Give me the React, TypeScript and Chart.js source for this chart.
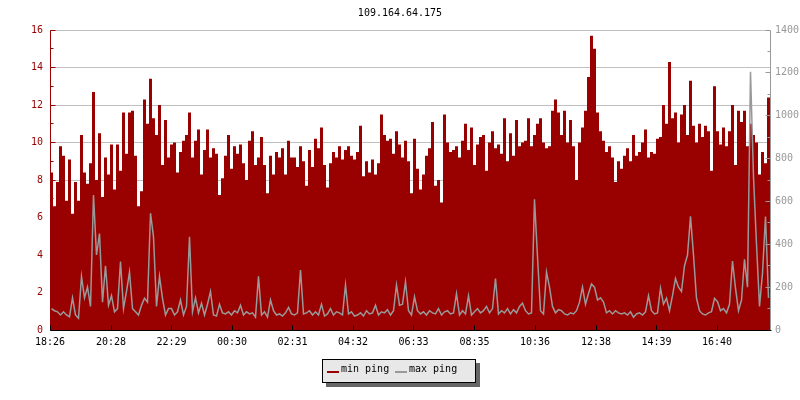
import React, { useEffect, useRef } from "react";
import { Chart, registerables } from "chart.js";

Chart.register(...registerables);

const TITLE = "109.164.64.175";
const START_TIME = "18:26";
const STEP_MINUTES = 6;
const SPAN_MINUTES = 1440;
const X_TICK_LABELS = ["18:26", "20:28", "22:29", "00:30", "02:31", "04:32", "06:33", "08:35", "10:36", "12:38", "14:39", "16:40"];
const LEFT_MAX = 16;
const LEFT_STEP = 2;
const RIGHT_MAX = 1400;
const RIGHT_STEP = 200;
const MIN_PING_LABEL = "min ping";
const MAX_PING_LABEL = "max ping";

// min ping (left axis), one value every 6 minutes
const MIN_PING = [
  8.4, 6.6, 7.9, 9.8, 9.3, 6.9, 9.1, 6.2, 7.9, 6.9, 10.4, 8.4, 7.8, 8.9, 12.7, 8.0, 10.5, 7.1, 9.2, 8.3, 9.9, 7.5, 9.9, 8.5,
  11.6, 9.4, 11.6, 11.7, 9.3, 6.6, 7.4, 12.3, 11.0, 13.4, 11.3, 10.4, 12.0, 8.8, 11.2, 9.2, 9.9, 10.0, 8.4, 9.5, 10.1, 10.4, 11.6, 9.2,
  10.1, 10.7, 8.3, 9.6, 10.7, 9.2, 9.7, 9.4, 7.2, 8.1, 9.3, 10.4, 8.6, 9.8, 9.4, 9.9, 8.9, 8.0, 10.1, 10.6, 8.8, 9.2, 10.3, 8.8,
  7.3, 9.3, 8.3, 9.5, 9.2, 9.7, 8.3, 10.1, 9.2, 9.2, 8.7, 9.8, 9.0, 7.7, 9.6, 8.7, 10.2, 9.7, 10.8, 8.8, 7.6, 8.9, 9.5, 9.2,
  9.8, 9.1, 9.6, 9.8, 9.3, 9.1, 9.5, 10.9, 8.2, 9.0, 8.4, 9.1, 8.3, 8.9, 11.5, 10.4, 10.1, 10.2, 9.4, 10.6, 9.9, 9.2, 10.1, 9.0,
  7.3, 10.2, 8.6, 7.5, 8.3, 9.3, 9.7, 11.1, 7.7, 8.0, 6.8, 11.5, 10.0, 9.5, 9.6, 9.8, 9.2, 10.1, 11.0, 9.6, 10.8, 8.8, 9.9, 10.3,
  10.4, 8.5, 10.0, 10.6, 9.7, 9.9, 9.4, 11.3, 9.0, 10.5, 9.3, 11.2, 9.8, 10.0, 10.1, 11.3, 9.8, 10.4, 11.0, 11.3, 10.0, 9.7, 9.8, 11.7,
  12.3, 11.6, 10.4, 11.7, 10.0, 11.2, 9.8, 8.0, 10.0, 10.8, 11.7, 13.5, 15.7, 15.0, 11.6, 10.6, 10.1, 9.5, 9.8, 9.2, 7.9, 9.0, 8.6, 9.3,
  9.7, 9.0, 10.4, 9.3, 9.5, 10.0, 10.7, 9.2, 9.5, 9.4, 10.2, 10.3, 12.0, 11.0, 14.3, 11.3, 11.6, 10.0, 11.5, 12.0, 10.4, 13.3, 10.9, 10.0,
  11.0, 10.3, 10.9, 10.6, 8.5, 13.0, 10.6, 9.9, 10.8, 9.8, 10.6, 12.0, 8.8, 11.7, 11.1, 11.7, 9.8, 11.0, 10.4, 10.0, 8.3, 9.5, 8.9, 12.4,
];

// max ping (right axis), one value every 6 minutes
const MAX_PING = [
  100, 90, 85, 70, 85, 70, 62, 150, 70, 55, 250, 150, 200, 110, 630, 350, 450, 130, 300, 115, 160, 85, 100, 320,
  100, 180, 270, 100, 85, 70, 115, 148, 130, 545, 435, 110, 250, 148, 70, 100, 100, 70, 85, 140, 70, 110, 435, 85,
  150, 80, 125, 70, 120, 180, 70, 65, 120, 80, 75, 85, 70, 90, 80, 115, 70, 85, 75, 80, 60, 250, 70, 85,
  60, 140, 90, 70, 75, 65, 80, 105, 75, 70, 80, 280, 75, 80, 90, 70, 85, 70, 120, 65, 75, 100, 70, 85,
  80, 70, 210, 75, 85, 65, 70, 80, 65, 90, 75, 80, 115, 70, 85, 80, 95, 70, 90, 210, 115, 120, 225, 90,
  70, 155, 90, 75, 85, 70, 90, 80, 75, 100, 70, 85, 90, 75, 80, 170, 70, 90, 75, 160, 70, 85, 100, 80,
  90, 110, 80, 100, 240, 75, 90, 80, 100, 75, 95, 80, 110, 125, 90, 75, 80, 610, 340, 90, 75, 270, 200, 110,
  80, 95, 90, 75, 70, 80, 75, 90, 130, 200, 120, 170, 215, 200, 140, 150, 130, 80, 90, 75, 90, 80, 75, 80,
  70, 85, 60, 75, 80, 70, 85, 160, 90, 75, 80, 195, 120, 148, 90, 160, 240, 200, 180, 300, 350, 530, 350, 148,
  90, 75, 70, 80, 85, 148, 132, 90, 100, 80, 120, 322, 195, 90, 140, 330, 200, 1205, 715, 400, 110, 265, 530, 150,
];

const RED = "#990000";
const GRAY = "#999999";
const FONT_FAMILY = "'DejaVu Sans Mono', 'Liberation Mono', monospace";

const toMinutes = (t: string) => {
  const [h, m] = t.split(":").map(Number);
  return h * 60 + m;
};
const TICK_OFFSETS = X_TICK_LABELS.map((t) => (toMinutes(t) - toMinutes(START_TIME) + 1440) % 1440);

// step points: each value holds over its 6-minute slot
const toStepPoints = (arr: number[]) =>
  arr.map((v, i) => ({ x: i * STEP_MINUTES, y: v })).concat([{ x: SPAN_MINUTES, y: arr[arr.length - 1] }]);
// line points: each value sits at the middle of its slot
const toMidPoints = (arr: number[]) => arr.map((v, i) => ({ x: (i + 0.5) * STEP_MINUTES, y: v }));

const axisDecor = {
  id: "axisDecor",
  afterDraw(chart: any) {
    const { ctx, chartArea } = chart;
    const { left, right, top, bottom } = chartArea;
    const yl = chart.scales.y;
    const yr = chart.scales.y2;
    const xs = chart.scales.x;
    const a = (p: number) => Math.round(p - 0.5) + 0.5;
    ctx.save();
    ctx.lineWidth = 1;
    // left axis
    ctx.strokeStyle = RED;
    ctx.beginPath();
    ctx.moveTo(a(left), a(top));
    ctx.lineTo(a(left), a(bottom));
    for (let v = 0; v <= LEFT_MAX; v += 1) {
      const y = a(yl.getPixelForValue(v));
      const len = v % LEFT_STEP === 0 ? 5 : 3;
      ctx.moveTo(a(left), y);
      ctx.lineTo(a(left) + len, y);
    }
    ctx.stroke();
    // right axis
    ctx.strokeStyle = GRAY;
    ctx.beginPath();
    ctx.moveTo(a(right), a(top));
    ctx.lineTo(a(right), a(bottom));
    for (let v = 0; v <= RIGHT_MAX; v += RIGHT_STEP / 2) {
      const y = a(yr.getPixelForValue(v));
      const len = v % RIGHT_STEP === 0 ? 5 : 3;
      ctx.moveTo(a(right), y);
      ctx.lineTo(a(right) - len, y);
    }
    ctx.stroke();
    // bottom axis
    ctx.strokeStyle = "#000000";
    ctx.beginPath();
    ctx.moveTo(a(left), a(bottom));
    ctx.lineTo(a(right) + 1, a(bottom));
    TICK_OFFSETS.forEach((m) => {
      const x = a(xs.getPixelForValue(m));
      ctx.moveTo(x, a(bottom));
      ctx.lineTo(x, a(bottom) - 5);
    });
    ctx.stroke();
    ctx.restore();
  },
};

export default function App() {
  const ref = useRef<HTMLCanvasElement>(null);

  useEffect(() => {
    if (!ref.current) return;
    Chart.defaults.font.family = FONT_FAMILY;
    Chart.defaults.font.size = 10;
    const chart = new Chart(ref.current, {
      type: "line",
      data: {
        datasets: [
          {
            label: MAX_PING_LABEL,
            data: toMidPoints(MAX_PING),
            yAxisID: "y2",
            borderColor: GRAY,
            borderWidth: 1.5,
            pointRadius: 0,
            tension: 0,
            fill: false,
            order: 0,
          },
          {
            label: MIN_PING_LABEL,
            data: toStepPoints(MIN_PING),
            yAxisID: "y",
            borderColor: RED,
            backgroundColor: RED,
            borderWidth: 0,
            pointRadius: 0,
            stepped: true,
            fill: "origin",
            order: 1,
          },
        ],
      },
      options: {
        responsive: false,
        devicePixelRatio: 1,
        animation: false,
        events: [],
        layout: { padding: 0 },
        plugins: {
          legend: { display: false },
          tooltip: { enabled: false },
          title: {
            display: true,
            text: TITLE,
            color: "#000000",
            font: { family: FONT_FAMILY, size: 10, weight: "normal" },
            padding: { top: 7, bottom: 11 },
          },
        },
        scales: {
          x: {
            type: "linear",
            min: 0,
            max: SPAN_MINUTES,
            grid: { display: false, drawTicks: false },
            border: { display: false },
            afterBuildTicks: (scale: any) => {
              scale.ticks = TICK_OFFSETS.map((v) => ({ value: v }));
            },
            afterFit: (scale: any) => {
              scale.height = 70;
            },
            ticks: {
              autoSkip: false,
              maxRotation: 0,
              padding: 6,
              color: "#000000",
              font: { family: FONT_FAMILY, size: 10 },
              callback: (value: any) => {
                const idx = TICK_OFFSETS.indexOf(Number(value));
                return idx >= 0 ? X_TICK_LABELS[idx] : "";
              },
            },
          },
          y: {
            type: "linear",
            position: "left",
            min: 0,
            max: LEFT_MAX,
            grid: {
              drawTicks: false,
              color: (c: any) => (c.tick && c.tick.value === 0 ? "rgba(0,0,0,0)" : "#c0c0c0"),
            },
            border: { display: false },
            afterFit: (scale: any) => {
              scale.width = 50;
            },
            ticks: {
              stepSize: LEFT_STEP,
              padding: 7,
              color: RED,
              font: { family: FONT_FAMILY, size: 10 },
              callback: (value: any) => String(value),
            },
          },
          y2: {
            type: "linear",
            position: "right",
            min: 0,
            max: RIGHT_MAX,
            grid: { display: false, drawTicks: false, drawOnChartArea: false },
            border: { display: false },
            afterFit: (scale: any) => {
              scale.width = 30;
            },
            ticks: {
              stepSize: RIGHT_STEP,
              padding: 5,
              color: GRAY,
              font: { family: FONT_FAMILY, size: 10 },
              callback: (value: any) => String(value),
            },
          },
        },
      },
      plugins: [axisDecor],
    } as any);
    return () => chart.destroy();
  }, []);

  const textStyle: React.CSSProperties = {
    position: "absolute",
    top: 3,
    font: `10px ${FONT_FAMILY}`,
    lineHeight: "12px",
    color: "#000000",
    whiteSpace: "pre",
  };

  return (
    <div style={{ position: "absolute", left: 0, top: 0, width: 800, height: 400, background: "#ffffff" }}>
      <canvas ref={ref} width={800} height={400} style={{ display: "block", width: 800, height: 400 }} />
      <div
        style={{
          position: "absolute",
          left: 322,
          top: 359,
          width: 154,
          height: 24,
          boxSizing: "border-box",
          border: "1px solid #000000",
          background: "#e8e8e8",
          boxShadow: "4px 4px 0 #666666",
        }}
      >
        <div style={{ position: "absolute", left: 4, top: 11, width: 12, height: 2, background: RED }} />
        <span style={{ ...textStyle, left: 18 }}>{MIN_PING_LABEL}</span>
        <div style={{ position: "absolute", left: 72, top: 11, width: 12, height: 2, background: GRAY }} />
        <span style={{ ...textStyle, left: 86 }}>{MAX_PING_LABEL}</span>
      </div>
    </div>
  );
}
